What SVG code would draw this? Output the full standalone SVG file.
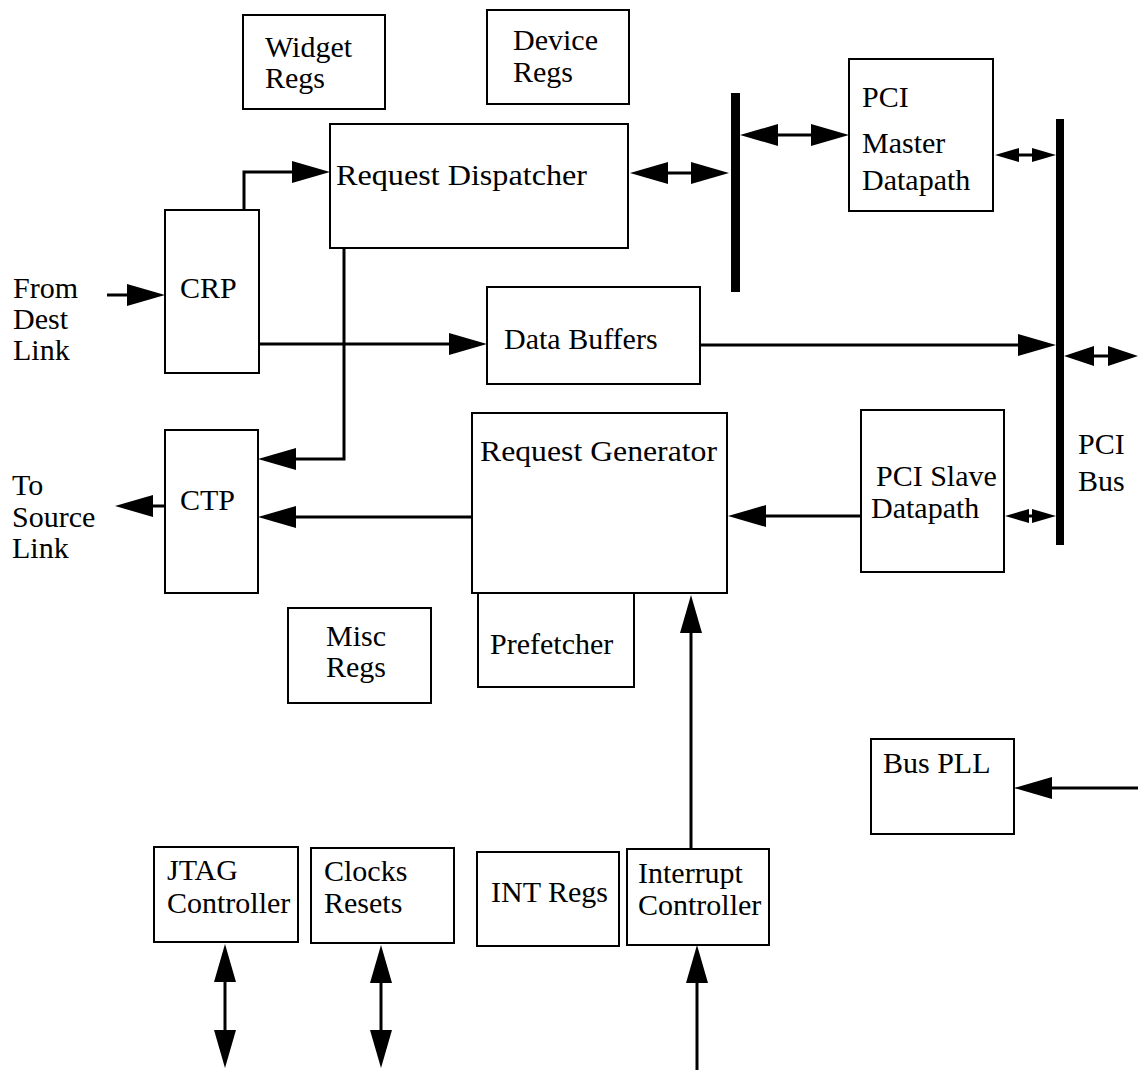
<svg xmlns="http://www.w3.org/2000/svg" width="1138" height="1070" viewBox="0 0 1138 1070">
<style>
  .box { fill: #fff; stroke: #000; stroke-width: 2; }
  .bar { fill: #000; stroke: none; }
  .lbl { font-family: "Liberation Serif", "Times New Roman", serif; font-size: 30px; fill: #000; }
  .wire { fill: none; stroke: #000; stroke-width: 3; }
  .big { marker-end: url(#ah); }
  .dbl { marker-start: url(#ah); marker-end: url(#ah); }
  .dmid { marker-start: url(#am); marker-end: url(#am); }
  .dsm { marker-start: url(#as); marker-end: url(#as); }
</style>
<defs>
  <marker id="ah" markerUnits="userSpaceOnUse" markerWidth="40" markerHeight="24" refX="28" refY="11" orient="auto-start-reverse" viewBox="0 0 40 24">
    <path d="M0,0 L38,11 L0,22 Z" fill="#000"/>
  </marker>
  <marker id="am" markerUnits="userSpaceOnUse" markerWidth="32" markerHeight="22" refX="22" refY="10" orient="auto-start-reverse" viewBox="0 0 32 22">
    <path d="M0,0 L30,10 L0,20 Z" fill="#000"/>
  </marker>
  <marker id="as" markerUnits="userSpaceOnUse" markerWidth="26" markerHeight="16" refX="17" refY="7" orient="auto-start-reverse" viewBox="0 0 26 16">
    <path d="M0,0 L24,7 L0,14 Z" fill="#000"/>
  </marker>
</defs>
<rect width="1138" height="1070" fill="#fff"/>

<g id="connectors">
  <path class="wire big" d="M107,295 H155"/>
  <path class="wire big" d="M244,210 V172 H320"/>
  <path class="wire big" d="M259,344 H477"/>
  <path class="wire big" d="M344,248 V459 H268"/>
  <path class="wire big" d="M472,517 H268"/>
  <path class="wire big" d="M165,506 H125"/>
  <path class="wire dbl" d="M640,173 H719"/>
  <path class="wire dbl" d="M750,135 H839"/>
  <path class="wire dsm" d="M1002,155 H1049"/>
  <path class="wire big" d="M700,345 H1046"/>
  <path class="wire dmid" d="M1072,356 H1130"/>
  <path class="wire big" d="M861,516 H738"/>
  <path class="wire dsm" d="M1012,516 H1049"/>
  <path class="wire big" d="M691,849 V605"/>
  <path class="wire big" d="M697,1070 V955"/>
  <path class="wire dbl" d="M225,954 V1058"/>
  <path class="wire dbl" d="M381,955 V1058"/>
  <path class="wire big" d="M1138,788 H1024"/>
</g>

<g id="bus-internal"><rect class="bar" x="731" y="93" width="9" height="199"/></g>
<g id="pci-bus">
  <rect class="bar" x="1056" y="119" width="8" height="426"/>
  <text class="lbl" x="1078" y="454">PCI</text>
  <text class="lbl" x="1078" y="491">Bus</text>
</g>

<g id="widget-regs">
  <rect class="box" x="243" y="15" width="142" height="94"/>
  <text class="lbl" x="265" y="57">Widget</text>
  <text class="lbl" x="265" y="88">Regs</text>
</g>
<g id="device-regs">
  <rect class="box" x="487" y="10" width="142" height="94"/>
  <text class="lbl" x="513" y="50">Device</text>
  <text class="lbl" x="513" y="82">Regs</text>
</g>
<g id="request-dispatcher">
  <rect class="box" x="330" y="124" width="298" height="124"/>
  <text class="lbl" x="336" y="185" textLength="251" lengthAdjust="spacingAndGlyphs">Request Dispatcher</text>
</g>
<g id="crp">
  <rect class="box" x="165" y="210" width="94" height="163"/>
  <text class="lbl" x="180" y="298">CRP</text>
</g>
<g id="from-dest-link">
  <text class="lbl" x="13" y="298">From</text>
  <text class="lbl" x="13" y="329">Dest</text>
  <text class="lbl" x="13" y="360">Link</text>
</g>
<g id="data-buffers">
  <rect class="box" x="487" y="287" width="213" height="97"/>
  <text class="lbl" x="504" y="349">Data Buffers</text>
</g>
<g id="pci-master-datapath">
  <rect class="box" x="849" y="59" width="144" height="152"/>
  <text class="lbl" x="862" y="107">PCI</text>
  <text class="lbl" x="862" y="153">Master</text>
  <text class="lbl" x="862" y="190">Datapath</text>
</g>
<g id="pci-slave-datapath">
  <rect class="box" x="861" y="410" width="143" height="162"/>
  <text class="lbl" x="876" y="486">PCI Slave</text>
  <text class="lbl" x="871" y="518">Datapath</text>
</g>
<g id="ctp">
  <rect class="box" x="165" y="430" width="93" height="163"/>
  <text class="lbl" x="180" y="510">CTP</text>
</g>
<g id="to-source-link">
  <text class="lbl" x="12" y="495">To</text>
  <text class="lbl" x="12" y="527">Source</text>
  <text class="lbl" x="12" y="558">Link</text>
</g>
<g id="request-generator">
  <rect class="box" x="472" y="413" width="255" height="180"/>
  <text class="lbl" x="480" y="461" textLength="237" lengthAdjust="spacingAndGlyphs">Request Generator</text>
</g>
<g id="prefetcher">
  <rect class="box" x="478" y="593" width="156" height="94"/>
  <text class="lbl" x="490" y="654">Prefetcher</text>
</g>
<g id="misc-regs">
  <rect class="box" x="288" y="608" width="143" height="95"/>
  <text class="lbl" x="326" y="646">Misc</text>
  <text class="lbl" x="326" y="677">Regs</text>
</g>
<g id="jtag-controller">
  <rect class="box" x="154" y="847" width="144" height="95"/>
  <text class="lbl" x="167" y="880">JTAG</text>
  <text class="lbl" x="167" y="913">Controller</text>
</g>
<g id="clocks-resets">
  <rect class="box" x="311" y="848" width="143" height="95"/>
  <text class="lbl" x="324" y="881">Clocks</text>
  <text class="lbl" x="324" y="913">Resets</text>
</g>
<g id="int-regs">
  <rect class="box" x="477" y="852" width="142" height="94"/>
  <text class="lbl" x="491" y="902">INT Regs</text>
</g>
<g id="interrupt-controller">
  <rect class="box" x="627" y="849" width="142" height="96"/>
  <text class="lbl" x="638" y="883">Interrupt</text>
  <text class="lbl" x="638" y="915">Controller</text>
</g>
<g id="bus-pll">
  <rect class="box" x="871" y="739" width="143" height="95"/>
  <text class="lbl" x="883" y="773">Bus PLL</text>
</g>
</svg>
